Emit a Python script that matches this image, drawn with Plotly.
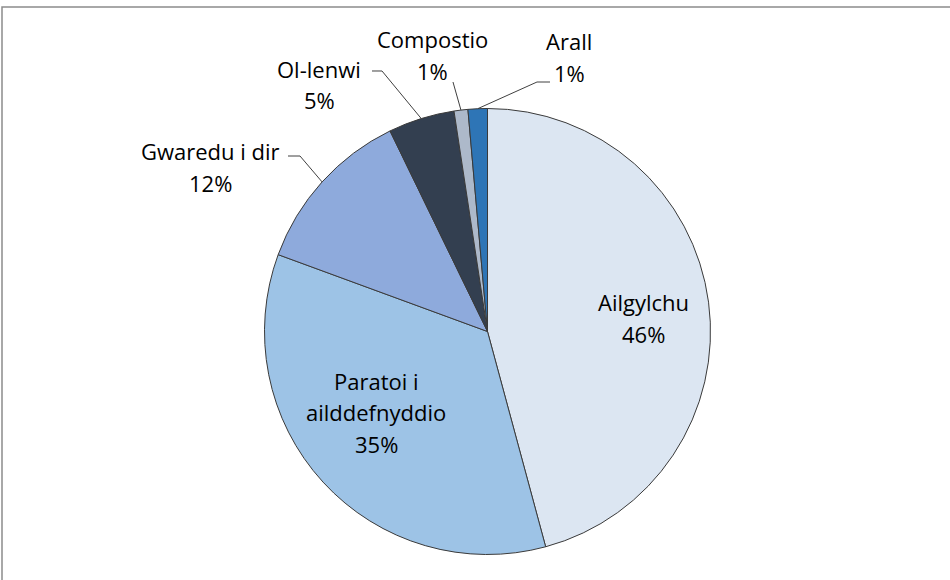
import math
import plotly.graph_objects as go

# ---- data ----
categories = ["Ailgylchu", "Paratoi i ailddefnyddio", "Gwaredu i dir", "Ol-lenwi", "Compostio", "Arall"]
values = [45.8, 34.8, 12.2, 4.8, 1.0, 1.4]
label_lines = [["Ailgylchu"], ["Paratoi i", "ailddefnyddio"], ["Gwaredu i dir"], ["Ol-lenwi"], ["Compostio"], ["Arall"]]
colors = ["#dce6f2", "#9dc3e6", "#8eaadc", "#333f50", "#adb9ca", "#2e75b6"]

# ---- layout geometry (pixels) ----
W, H = 950, 580
CX, CY, R = 487.5, 331.5, 223
FONT = dict(family="Open Sans, Lato, sans-serif", size=22, color="#000000")
LINE_GAP = 31.5

# label block first-line centres (px) and leader-line elbows (px); None = inside label
label_pos = [(643, 302), (376, 381), (210, 151), (319, 69), (432, 39), (569, 41)]
leader = [None, None, [(288, 156), (300, 156)], [(372, 71), (382, 71)], [(453, 82)], [(550, 82), (537, 82)]]


def px(x):
    return x / W


def py(y):
    return 1 - y / H


fig = go.Figure(go.Pie(
    labels=categories,
    values=values,
    sort=False,
    direction="clockwise",
    rotation=0,
    textinfo="none",
    hoverinfo="label+percent",
    marker=dict(colors=colors, line=dict(color="#3a3a3a", width=1)),
    domain=dict(x=[px(CX - 300), px(CX + 300)], y=[py(CY + R), py(CY - R)]),
    showlegend=False,
))

total = sum(values)
annotations = []
shapes = []
cum = 0.0
for i, v in enumerate(values):
    mid = (cum + v / 2) / total * 2 * math.pi
    cum += v
    pct = f"{round(v / total * 100)}%"
    lines = label_lines[i] + [pct]
    lx, ly = label_pos[i]
    for k, t in enumerate(lines):
        annotations.append(dict(
            x=px(lx), y=py(ly + k * LINE_GAP), xref="paper", yref="paper",
            text=t, showarrow=False, font=FONT, xanchor="center", yanchor="middle",
        ))
    if leader[i] is not None:
        ex = CX + R * math.sin(mid)
        ey = CY - R * math.cos(mid)
        pts = leader[i] + [(ex, ey)]
        path = "M " + " L ".join(f"{px(a):.5f},{py(b):.5f}" for a, b in pts)
        shapes.append(dict(type="path", path=path, xref="paper", yref="paper",
                           line=dict(color="#404040", width=1)))

# chart frame (only top/left edges visible in the reference)
shapes.append(dict(type="rect", xref="paper", yref="paper",
                   x0=px(2), x1=1.05, y0=-0.05, y1=py(7),
                   line=dict(color="#8c8c8c", width=1.5), layer="below"))

fig.update_layout(
    width=W, height=H,
    margin=dict(l=0, r=0, t=0, b=0),
    paper_bgcolor="#ffffff", plot_bgcolor="#ffffff",
    annotations=annotations, shapes=shapes,
    font=FONT,
)

fig.write_html(
    "out.html",
    config={"displayModeBar": False},
    post_script="document.body.style.margin='0';document.body.style.overflow='hidden';",
)
